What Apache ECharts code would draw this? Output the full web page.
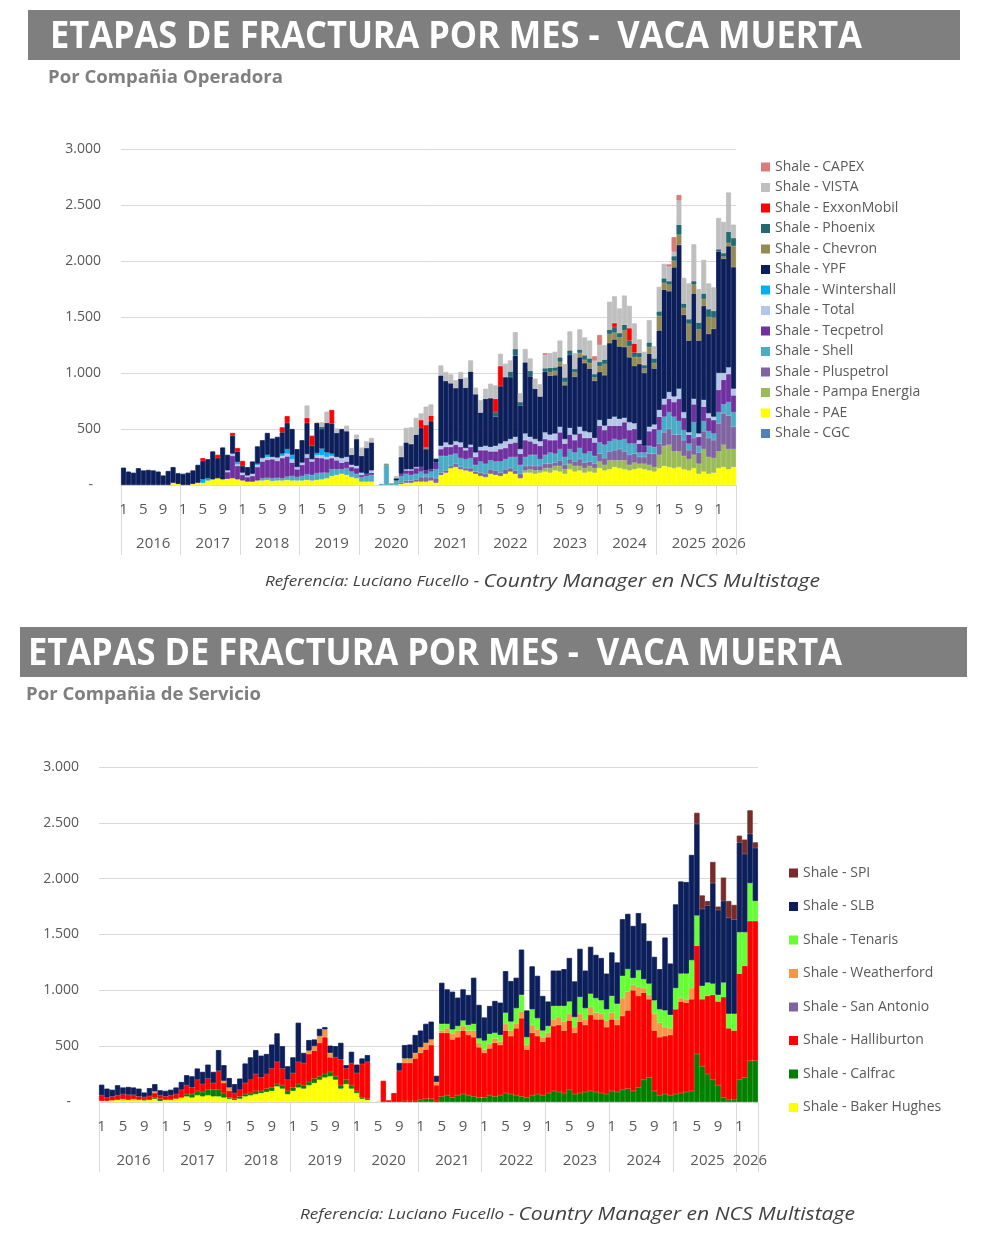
<!DOCTYPE html>
<html><head><meta charset="utf-8">
<script src="https://cdn.jsdelivr.net/npm/echarts@6/dist/echarts.min.js"></script>
<style>html,body{margin:0;padding:0;background:#fff}#c{width:990px;height:1250px}</style>
</head><body><div id="c"></div>
<script>
// ---------- categories ----------
const years = [2016,2017,2018,2019,2020,2021,2022,2023,2024,2025,2026];
const monthsInYear = [12,12,12,12,12,12,12,12,12,12,4];
const monthLabelsShown = [1,5,9];
const yTicks = [0,500,1000,1500,2000,2500,3000];

// ---------- Por Compañía Operadora (stack order bottom -> top) ----------
const opCGC = [
0,0,0,0,0,0,0,0,0,0,0,0,
0,0,0,0,0,0,0,0,0,0,0,0,
0,0,0,0,0,0,0,0,0,0,0,0,
0,0,0,0,0,0,0,0,0,0,0,0,
0,0,0,0,0,0,0,0,0,0,0,0,
0,0,0,0,0,0,0,0,0,0,0,0,
0,0,0,0,0,0,0,0,0,0,0,0,
0,0,0,0,0,0,0,0,0,0,0,0,
0,0,0,0,0,0,0,0,0,0,0,0,
0,0,0,0,0,0,0,0,0,0,0,0,
0,0,0,0];
const opPAE = [
0,0,0,0,0,0,0,0,0,0,20,10,
0,0,10,20,20,40,50,60,50,55,60,50,
40,30,30,40,40,45,35,40,40,45,40,40,
40,45,40,45,50,60,80,90,100,90,70,60,
30,30,30,0,0,0,0,0,10,20,20,30,
30,30,40,20,90,110,150,160,140,130,120,100,
80,70,100,90,80,100,120,100,60,110,110,100,
110,120,110,130,120,100,140,120,130,110,120,110,
150,130,140,160,150,140,130,140,150,140,130,120,
150,170,160,150,160,140,130,150,100,120,100,110,
150,160,140,160];
const opPampa = [
0,0,0,0,0,0,0,0,0,0,0,0,
0,0,0,0,0,0,0,0,0,0,0,0,
0,0,0,0,0,0,0,0,0,0,0,0,
0,0,0,0,0,0,0,0,0,0,0,0,
0,0,0,0,0,0,0,0,0,0,0,0,
0,0,0,0,0,0,0,0,0,0,0,0,
0,0,0,0,0,0,0,0,0,20,30,30,
20,30,40,40,50,40,50,50,40,40,50,40,
60,50,80,60,70,80,50,60,40,50,50,40,
120,180,200,150,140,120,100,120,90,200,150,130,
150,200,180,160];
const opPlus = [
0,0,0,0,0,0,0,0,0,0,0,0,
0,0,0,0,0,0,0,0,0,0,0,0,
0,0,0,0,0,0,0,0,0,0,0,0,
0,0,0,0,0,0,0,0,0,0,0,0,
0,0,0,0,0,0,0,0,10,20,20,20,
40,40,30,40,20,20,20,30,20,20,30,20,
30,30,40,40,30,40,30,30,40,40,30,40,
40,40,40,30,50,40,40,40,60,50,40,40,
70,60,80,90,100,80,90,80,60,60,100,120,
100,120,140,150,150,140,80,150,100,160,170,160,
250,280,300,200];
const opShell = [
0,0,0,0,0,0,0,0,0,0,0,0,
0,0,0,0,0,0,0,0,0,0,0,0,
0,0,0,0,20,20,25,25,20,30,40,30,
40,50,50,60,60,50,60,50,40,60,50,40,
40,50,60,0,10,180,15,40,60,60,50,50,
50,30,50,80,150,130,100,90,80,80,90,60,
100,90,80,80,100,90,100,120,80,80,100,100,
60,80,100,80,100,70,90,80,100,80,90,70,
100,120,90,100,80,110,100,90,40,40,70,60,
120,140,150,160,120,90,60,140,60,90,60,60,
100,80,120,130];
const opTec = [
0,0,0,0,0,0,0,0,0,0,0,0,
0,0,0,0,0,0,0,0,0,60,200,120,
50,40,50,120,150,160,170,150,180,180,120,70,
100,150,120,140,130,120,100,80,60,60,40,50,
20,20,20,0,0,0,0,0,20,30,40,50,
40,30,20,60,60,80,70,80,100,80,100,70,
100,120,80,90,110,100,120,130,100,150,120,100,
120,140,110,120,150,120,130,110,130,140,120,120,
150,130,140,120,130,150,120,130,80,60,130,160,
120,110,120,130,200,110,80,160,80,130,120,120,
200,220,250,150];
const opTotal = [
0,0,0,0,0,0,0,0,0,0,0,0,
0,0,0,0,0,0,0,0,0,15,20,15,
20,15,20,20,30,25,20,30,20,25,30,20,
20,30,20,20,25,20,20,30,40,40,20,20,
20,0,20,0,0,0,0,0,0,10,10,10,
0,0,0,0,30,40,20,30,40,20,20,40,
30,40,40,50,50,60,40,50,40,60,40,40,
40,60,50,60,50,40,60,50,60,60,50,40,
50,40,60,80,60,40,70,50,30,0,40,40,
60,50,60,50,90,50,20,50,30,60,40,30,
150,60,60,60];
const opWinter = [
0,0,0,0,0,0,0,0,0,0,0,0,
0,0,0,0,30,20,0,0,0,0,0,20,
0,0,0,10,0,20,0,0,20,40,40,0,
0,0,0,20,60,40,20,0,0,0,0,0,
0,0,0,0,0,0,0,0,0,0,0,0,
0,0,0,0,0,0,0,0,0,0,0,0,
0,0,0,0,0,0,0,0,0,0,0,0,
0,0,0,0,0,0,0,0,0,0,0,0,
0,0,0,0,0,0,0,0,0,0,0,0,
0,0,0,0,0,0,0,0,0,0,0,0,
0,0,0,0];
const opYPF = [
155,120,110,150,130,135,130,120,85,125,140,95,
100,110,120,160,165,170,250,180,285,140,160,95,
60,75,110,155,160,195,165,185,190,235,230,160,
200,280,120,270,175,265,270,215,260,230,90,240,
150,230,250,0,0,0,0,20,150,240,225,290,
350,190,430,35,628,549,548,475,569,539,653,520,
307,420,435,260,512,573,553,725,390,635,540,450,
400,542,527,520,540,480,652,517,620,608,570,510,
430,450,677,690,647,632,580,513,680,650,653,500,
710,975,900,1153,1285,870,820,940,830,840,710,785,
1085,1020,1082,1085];
const opChev = [
0,0,0,0,0,0,0,0,0,0,0,0,
0,0,0,0,0,0,0,0,0,0,0,0,
0,0,0,0,0,0,0,0,0,0,0,0,
0,0,0,0,0,0,0,0,0,0,0,0,
0,0,0,0,0,10,0,0,0,0,0,0,
0,15,0,0,0,0,0,0,0,0,0,0,
0,0,0,0,0,0,0,0,0,0,0,0,
0,0,30,40,40,30,0,40,40,30,50,30,
50,100,80,60,80,150,100,80,60,40,60,50,
130,60,60,60,90,60,150,80,100,60,150,100,
0,20,30,190];
const opPhoe = [
0,0,0,0,0,0,0,0,0,0,0,0,
0,0,0,0,0,0,0,0,0,0,0,0,
0,0,0,0,0,0,0,0,0,0,0,0,
0,0,0,0,20,0,0,0,0,0,0,0,
0,0,0,0,0,0,0,0,0,0,0,0,
0,0,0,0,0,0,0,0,0,0,0,0,
0,0,0,40,0,0,50,60,30,0,50,0,
0,30,40,30,40,40,40,30,30,40,40,30,
40,40,40,50,40,50,50,40,40,30,40,40,
40,40,30,40,90,40,40,30,60,50,70,60,
20,30,100,70];
const opExxon = [
0,0,0,0,0,0,0,0,0,0,0,0,
0,0,0,0,25,0,0,30,0,0,25,30,
45,0,0,0,0,0,0,0,45,60,0,0,
0,45,90,0,0,0,120,0,0,0,0,0,
0,0,0,0,0,0,0,0,0,0,0,0,
70,200,50,0,0,0,0,0,0,0,0,0,
0,0,0,120,180,0,0,0,0,0,0,0,
0,0,0,0,0,0,0,0,0,0,0,0,
0,0,0,35,0,0,110,80,0,0,0,0,
0,0,0,0,0,0,0,0,0,0,0,0,
0,0,0,0];
const opVista = [
0,0,0,0,0,0,0,0,0,0,0,0,
0,0,0,0,0,0,0,0,0,0,0,0,
0,0,0,0,0,0,0,0,0,0,0,0,
0,110,0,0,40,100,0,40,0,50,60,40,
75,60,40,0,0,0,0,20,100,130,150,150,
60,165,100,0,90,80,80,70,60,90,100,60,
110,90,130,120,110,120,100,150,80,120,110,90,
110,120,130,140,150,120,170,140,180,160,160,120,
150,130,250,240,220,260,200,180,120,120,200,110,
220,130,130,40,215,230,320,330,300,300,230,210,
280,280,350,120];
const opCapex = [
0,0,0,0,0,0,0,0,0,0,0,0,
0,0,0,0,0,0,0,0,0,0,0,0,
0,0,0,0,0,0,0,0,0,0,0,0,
0,0,0,0,0,0,0,0,0,0,0,0,
0,0,0,0,0,0,0,0,0,0,0,0,
0,0,0,0,0,0,0,0,0,0,0,0,
0,0,0,0,0,0,0,0,0,0,0,0,
0,15,0,0,0,0,0,0,0,0,0,40,
90,0,0,0,0,0,0,0,0,0,0,0,
0,0,20,130,50,0,0,0,0,0,0,0,
0,0,0,0];

// ---------- Por Compañía de Servicio (stack order bottom -> top) ----------
const svBaker = [
10,10,15,20,25,20,25,20,15,20,30,10,
20,20,30,40,50,40,60,50,60,50,50,40,
30,20,30,50,60,70,80,90,100,140,120,70,
100,130,120,150,170,200,220,230,200,120,160,120,
80,30,20,0,10,0,0,0,0,0,0,0,
0,0,0,0,0,0,0,0,0,0,0,0,
0,0,0,0,0,0,0,0,0,0,0,0,
0,0,0,0,0,0,0,0,0,0,0,0,
0,0,0,0,0,0,0,0,0,0,0,0,
0,0,0,0,0,0,0,0,0,0,0,0,
0,0,0,0];
const svCalfrac = [
0,0,0,0,0,0,0,0,10,0,10,20,
0,0,0,0,20,30,40,40,50,60,60,40,
10,10,20,20,20,30,20,30,30,20,30,30,
30,30,30,30,40,30,30,40,30,30,40,30,
20,10,10,0,0,0,0,0,0,10,10,10,
20,30,30,10,50,60,40,60,70,60,50,40,
40,60,50,60,80,70,60,50,40,60,70,60,
80,100,90,80,110,70,80,90,100,90,80,70,
100,90,110,120,100,130,200,220,100,60,70,60,
70,80,90,100,430,320,250,200,150,40,20,20,
200,220,370,370];
const svHalli = [
50,30,35,40,45,45,40,30,20,35,40,30,
30,40,40,70,80,60,100,70,100,60,170,90,
60,50,60,100,120,150,120,130,170,200,150,100,
130,200,200,250,250,300,330,130,170,230,100,200,
160,300,330,0,0,190,15,80,280,340,340,380,
420,440,480,140,570,560,520,520,570,540,530,450,
400,420,480,450,560,520,600,700,430,560,520,480,
500,580,600,560,620,550,640,600,680,650,660,600,
640,600,660,700,900,820,780,700,540,520,520,540,
760,820,800,820,970,600,700,760,750,900,640,620,
950,1000,1250,1250];
const svSanAnt = [
0,0,0,0,0,0,0,0,0,0,0,0,
0,0,0,0,0,0,0,0,0,0,0,0,
0,0,0,0,0,0,0,0,0,0,0,0,
0,0,0,0,0,0,0,0,0,0,0,0,
0,0,0,0,0,0,0,0,0,0,0,0,
0,0,0,0,0,0,0,0,0,0,0,0,
0,0,0,0,0,0,0,0,0,0,0,0,
0,0,0,0,0,0,0,0,0,0,0,0,
0,0,0,0,0,0,0,0,0,0,0,0,
0,0,0,0,0,0,0,0,0,0,0,0,
0,0,0,0];
const svWeather = [
0,0,0,0,0,0,0,0,0,0,15,0,
0,0,0,0,0,0,0,0,0,0,0,20,
30,0,0,0,0,0,0,0,0,0,0,0,
0,0,0,30,40,60,70,40,0,0,0,0,
0,0,0,0,0,0,0,0,0,40,40,50,
50,60,50,30,20,40,50,60,40,40,60,40,
30,40,40,30,60,50,40,60,40,70,60,40,
40,60,70,80,60,50,70,50,70,60,50,60,
60,50,160,170,50,80,40,40,150,130,80,60,
0,30,30,100,0,0,0,0,0,0,0,0,
0,0,0,0];
const svTenaris = [
0,0,0,0,0,0,0,0,0,0,0,0,
0,0,0,0,0,0,0,0,0,0,0,0,
0,0,0,0,0,0,0,0,0,0,0,0,
0,0,0,0,0,0,0,0,0,0,0,0,
0,0,0,0,0,0,0,0,0,0,0,0,
0,0,0,0,60,40,40,40,50,50,60,40,
80,90,50,60,100,80,140,150,70,140,100,60,
60,120,100,140,110,90,150,100,120,130,120,100,
150,140,200,200,60,150,80,100,120,120,150,120,
190,220,230,250,270,120,120,100,60,130,130,150,
370,300,340,180];
const svSLB = [
95,80,60,90,60,70,65,70,40,70,65,45,
50,50,60,70,90,100,100,110,125,100,185,140,
85,80,100,175,200,215,195,180,215,255,200,120,
140,350,90,95,60,65,20,65,100,150,30,100,
75,50,60,0,0,0,0,0,70,120,125,160,
150,170,160,55,368,309,338,255,279,269,413,300,
207,250,285,290,372,363,273,405,240,385,380,310,
220,317,317,330,390,320,432,337,420,388,380,320,
390,370,507,495,467,512,500,383,390,360,653,460,
750,825,820,943,820,690,690,900,760,730,860,845,
805,700,442,475];
const svSPI = [
0,0,0,0,0,0,0,0,0,0,0,0,
0,0,0,0,0,0,0,0,0,0,0,0,
0,0,0,0,0,0,0,0,0,0,0,0,
0,0,0,0,0,0,0,0,0,0,0,0,
0,0,0,0,0,0,0,0,0,0,0,0,
0,0,0,0,0,0,0,0,0,0,0,0,
0,0,0,0,0,0,0,0,0,0,0,0,
0,0,0,0,0,0,0,0,0,0,0,0,
0,0,0,0,0,0,0,0,0,0,0,0,
0,0,0,0,100,120,40,190,30,210,150,130,
60,130,210,50];

// ---------- build categories ----------
const catYear = [], catMonth = [], cats = [];
years.forEach((y, yi) => { for (let m = 1; m <= monthsInYear[yi]; m++) { catYear.push(y); catMonth.push(m); cats.push(y + '-' + m); } });
const yearLabelMonth = (y) => (monthsInYear[years.indexOf(y)] === 12 ? 7 : 3);

const opSeries = [
  ['Shale - CGC', opCGC, '#4F81BD'],
  ['Shale - PAE', opPAE, '#FFFF00'],
  ['Shale - Pampa Energia', opPampa, '#9BBB59'],
  ['Shale - Pluspetrol', opPlus, '#8064A2'],
  ['Shale - Shell', opShell, '#4BACC6'],
  ['Shale - Tecpetrol', opTec, '#7030A0'],
  ['Shale - Total', opTotal, '#B4C6E7'],
  ['Shale - Wintershall', opWinter, '#00B0F0'],
  ['Shale - YPF', opYPF, '#0C1F5B'],
  ['Shale - Chevron', opChev, '#948A54'],
  ['Shale - Phoenix', opPhoe, '#216A73'],
  ['Shale - ExxonMobil', opExxon, '#FF0000'],
  ['Shale - VISTA', opVista, '#BFBFBF'],
  ['Shale - CAPEX', opCapex, '#DA7B78']
];
const svSeries = [
  ['Shale - Baker Hughes', svBaker, '#FFFF00'],
  ['Shale - Calfrac', svCalfrac, '#008000'],
  ['Shale - Halliburton', svHalli, '#FF0000'],
  ['Shale - San Antonio', svSanAnt, '#8064A2'],
  ['Shale - Weatherford', svWeather, '#F79646'],
  ['Shale - Tenaris', svTenaris, '#66FF33'],
  ['Shale - SLB', svSLB, '#0C1F5B'],
  ['Shale - SPI', svSPI, '#772C2A']
];

// ---------- layout helpers ----------
const FONT = '"Open Sans", "Noto Sans", sans-serif';
const mctx = document.createElement('canvas').getContext('2d');
function textW(txt, font) { mctx.font = font; return mctx.measureText(txt).width; }
const GREY = '#595959', GRID = '#D9D9D9';
const SEP_LEN = 70;

function fmtY(v) {
  if (v === 0) return '-\u2007';
  if (v >= 1000) return Math.floor(v / 1000) + '.' + String(v % 1000).padStart(3, '0');
  return String(v);
}

function xAxesFor(gi) {
  return [{
    type: 'category', gridIndex: gi, data: cats, position: 'bottom',
    axisLine: { show: true, lineStyle: { color: GRID } },
    axisTick: { show: true, interval: (i) => catMonth[i] === 1, length: SEP_LEN, lineStyle: { color: GRID } },
    axisLabel: { interval: 0, hideOverlap: false, margin: 17, fontSize: 15, color: GREY, fontFamily: FONT,
      formatter: (v, i) => monthLabelsShown.indexOf(catMonth[i]) >= 0 ? String(catMonth[i]) : '' },
    splitLine: { show: false }
  }, {
    type: 'category', gridIndex: gi, data: cats, position: 'bottom',
    axisLine: { show: false }, axisTick: { show: false }, splitLine: { show: false },
    axisLabel: { interval: 0, hideOverlap: false, margin: 51, fontSize: 15, color: GREY, fontFamily: FONT,
      formatter: (v, i) => catMonth[i] === yearLabelMonth(catYear[i]) ? String(catYear[i]) : '' }
  }];
}
function yAxisFor(gi) {
  return {
    type: 'value', gridIndex: gi, min: yTicks[0], max: yTicks[yTicks.length - 1], interval: 500,
    axisLine: { show: false }, axisTick: { show: false },
    splitLine: { show: true, lineStyle: { color: GRID, width: 1 } },
    axisLabel: { margin: 20, fontSize: 14, color: GREY, fontFamily: FONT, formatter: fmtY }
  };
}

// zero segments are left empty ('-') so their seam-covering border does not draw a stray line
function barSeries(n, d, c, stack, xi, yi) {
  return { name: n, type: 'bar', stack: stack, xAxisIndex: xi, yAxisIndex: yi,
    data: d.map(v => (v === 0 ? '-' : v)),
    barCategoryGap: '0%', barGap: '0%',
    itemStyle: { color: c, borderColor: c, borderWidth: 0.8 } };
}
const series = [];
opSeries.forEach(([n, d, c]) => series.push(barSeries(n, d, c, 'op', 0, 0)));
svSeries.forEach(([n, d, c]) => series.push(barSeries(n, d, c, 'sv', 2, 1)));

// ---------- texts ----------
const TITLE = 'ETAPAS DE FRACTURA POR MES -  VACA MUERTA';
const titleFont = 'bold 38px ' + FONT;
const subFont = 'bold 17px ' + FONT;
const refA = 'Referencia: Luciano Fucello - ', refB = 'Country Manager en NCS Multistage';
const refW = textW(refA, 'italic 15px ' + FONT) + textW(refB, 'italic 18.5px ' + FONT);
function titleText(x, y, w) {
  return { type: 'text', x: x, y: y, scaleX: w / textW(TITLE, titleFont), z: 10,
    style: { text: TITLE, font: titleFont, fill: '#FFFFFF', verticalAlign: 'middle', align: 'left' } };
}
function subText(txt, x, y, w) {
  return { type: 'text', x: x, y: y, scaleX: w / textW(txt, subFont),
    style: { text: txt, font: subFont, fill: '#7F7F7F', verticalAlign: 'middle', align: 'left' } };
}
function refText(x, y, w) {
  return { type: 'text', x: x, y: y, scaleX: w / refW,
    style: { text: '{a|' + refA + '}{b|' + refB + '}', verticalAlign: 'middle', align: 'left',
      rich: { a: { fontSize: 15, fontStyle: 'italic', fontFamily: FONT, fill: '#404040' },
              b: { fontSize: 18.5, fontStyle: 'italic', fontFamily: FONT, fill: '#404040' } } } };
}

const graphics = [
  { type: 'rect', shape: { x: 28, y: 10, width: 932, height: 50 }, style: { fill: '#7F7F7F' } },
  titleText(50, 37, 812),
  subText('Por Compañia Operadora', 48, 78, 235),
  refText(265, 582, 555),
  { type: 'rect', shape: { x: 20, y: 627, width: 947, height: 50 }, style: { fill: '#7F7F7F' } },
  titleText(28, 654, 814),
  subText('Por Compañia de Servicio', 26, 695, 235),
  refText(300, 1215, 555)
];
// sanity check on data lengths
[...opSeries, ...svSeries].forEach(([n, d]) => { if (d.length !== cats.length) graphics.push({ type: 'text', x: 10, y: 1240 - graphics.length * 2, style: { text: 'LEN ' + n + ' ' + d.length, fill: 'red' } }); });

const legendBase = { orient: 'vertical', padding: 0, itemWidth: 9, itemHeight: 9, icon: 'rect', selectedMode: false,
  itemStyle: { borderWidth: 0 },
  textStyle: { fontSize: 14, color: GREY, fontFamily: FONT, lineHeight: 16 } };

const option = {
  animation: false,
  backgroundColor: '#FFFFFF',
  textStyle: { fontFamily: FONT },
  grid: [
    { left: 121, width: 615, top: 149, height: 336, outerBoundsMode: 'none', containLabel: false },
    { left: 99, width: 659, top: 767, height: 335, outerBoundsMode: 'none', containLabel: false }
  ],
  xAxis: [...xAxesFor(0), ...xAxesFor(1)],
  yAxis: [yAxisFor(0), yAxisFor(1)],
  legend: [
    Object.assign({}, legendBase, { left: 761, top: 159, itemGap: 4.5, data: opSeries.map(s => s[0]).reverse() }),
    Object.assign({}, legendBase, { left: 789, top: 865, itemGap: 17.5, data: svSeries.map(s => s[0]).reverse() })
  ],
  tooltip: { show: false },
  graphic: graphics,
  series: series
};
const chart = echarts.init(document.getElementById('c'), null, { renderer: 'canvas', width: 990, height: 1250 });
chart.setOption(option);

// closing year separator at the right end of each category axis (position taken from the axis scale)
function endSeparator(xi, yi) {
  const a = chart.convertToPixel({ xAxisIndex: xi }, cats[cats.length - 1]);
  const b = chart.convertToPixel({ xAxisIndex: xi }, cats[cats.length - 2]);
  const x = Math.round(a + (a - b) / 2) + 0.5;
  const y = chart.convertToPixel({ yAxisIndex: yi }, 0);
  return { type: 'line', shape: { x1: x, y1: y, x2: x, y2: y + SEP_LEN }, style: { stroke: GRID, lineWidth: 1 } };
}
chart.setOption({ graphic: graphics.concat([endSeparator(0, 0), endSeparator(2, 1)]) });
</script></body></html>
